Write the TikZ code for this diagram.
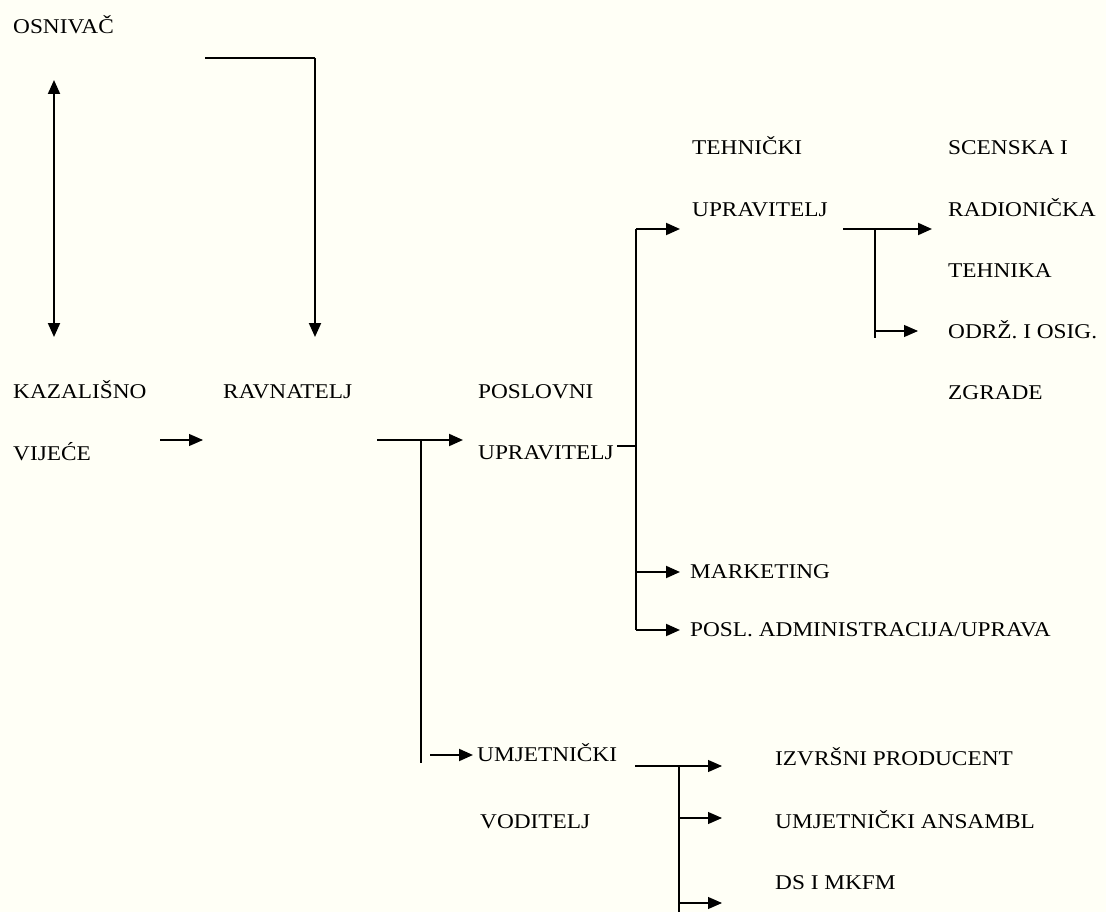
\documentclass[tikz,border=0pt]{standalone}
\usepackage{fontspec}
\setmainfont{Liberation Serif}[FakeStretch=1.11]
\usetikzlibrary{arrows.meta}
\definecolor{paper}{RGB}{255,255,246}
\begin{document}
\begin{tikzpicture}[x=1pt,y=-1pt,
  lbl/.style={anchor=west,inner sep=0pt,text height=13.8pt,text depth=0pt,
    font=\fontsize{21}{25}\selectfont},
  thick line/.style={line width=2pt},
  thin line/.style={line width=1.1pt},
  tip/.style={-{Triangle[length=14pt,width=12pt]}},
  dtip/.style={{Triangle[length=14pt,width=12pt]}-{Triangle[length=14pt,width=12pt]}}]
\fill[paper] (0,0) rectangle (1106,912);
\useasboundingbox (0,0) rectangle (1106,912);
% texts
\node[lbl] (osn)  at (13,27)  {OSNIVAČ};
\node[lbl] (kaz1) at (13,392) {KAZALIŠNO};
\node[lbl] (kaz2) at (13,454) {VIJEĆE};
\node[lbl] (rav)  at (223,392) {RAVNATELJ};
\node[lbl] (pos1) at (478,392) {POSLOVNI};
\node[lbl] (pos2) at (478,453) {UPRAVITELJ};
\node[lbl] (teh1) at (692,148) {TEHNIČKI};
\node[lbl] (teh2) at (692,210) {UPRAVITELJ};
\node[lbl] (sc1)  at (948,148) {SCENSKA I};
\node[lbl] (sc2)  at (948,210) {RADIONIČKA};
\node[lbl] (sc3)  at (948,271) {TEHNIKA};
\node[lbl] (odr1) at (948,332) {ODRŽ. I OSIG.};
\node[lbl] (odr2) at (948,393) {ZGRADE};
\node[lbl] (mkt)  at (690,572) {MARKETING};
\node[lbl] (adm)  at (690,630) {POSL. ADMINISTRACIJA/UPRAVA};
\node[lbl] (umj1) at (477,755) {UMJETNIČKI};
\node[lbl] (umj2) at (480,822) {VODITELJ};
\node[lbl] (izv)  at (775,759) {IZVRŠNI PRODUCENT};
\node[lbl] (ans)  at (775,822) {UMJETNIČKI ANSAMBL};
\node[lbl] (ds)   at (775,883) {DS I MKFM};
% junction coordinates
\coordinate (dA) at (54,80);
\coordinate (dB) at (54,337);
\coordinate (bS) at (205,58);
\coordinate (bE) at (315,337);
\coordinate (vS) at (160,440);
\coordinate (vE) at (203,440);
\coordinate (rS) at (377,440);
\coordinate (rE) at (463,440);
\coordinate (rJ) at (421,440);
\coordinate (rB) at (421,763);
\coordinate (uS) at (430,755);
\coordinate (uE) at (473,755);
\coordinate (pS) at (617,446);
\coordinate (pJ) at (636,446);
\coordinate (pT) at (636,229);
\coordinate (pB) at (636,630);
\coordinate (pM) at (636,572);
\coordinate (tE) at (680,229);
\coordinate (mE) at (680,572);
\coordinate (aE) at (680,630);
\coordinate (tS) at (843,229);
\coordinate (tJ) at (875,229);
\coordinate (tB) at (875,338);
\coordinate (tO) at (875,331);
\coordinate (sE) at (932,229);
\coordinate (oE) at (918,331);
\coordinate (kS) at (635,766);
\coordinate (kJ) at (679,766);
\coordinate (kE) at (722,766);
\coordinate (kB) at (679,912);
\coordinate (k2) at (679,818);
\coordinate (k2E) at (722,818);
\coordinate (k3) at (679,903);
\coordinate (k3E) at (722,903);
% connectors
\draw[thick line,dtip] (dA) -- (dB);
\draw[thin line] (bS) -- (bS -| bE);
\draw[thick line,tip] (bS -| bE) -- (bE);
\draw[thin line,tip] (vS) -- (vE);
\draw[thick line,tip] (rS) -- (rE);
\draw[thin line] (rJ) -- (rB);
\draw[thick line,tip] (uS) -- (uE);
\draw[thin line] (pS) -- (pJ);
\draw[thick line] (pT) -- (pB);
\draw[thick line,tip] (pT) -- (tE);
\draw[thick line,tip] (pM) -- (mE);
\draw[thick line,tip] (pB) -- (aE);
\draw[thick line,tip] (tS) -- (sE);
\draw[thin line] (tJ) -- (tB);
\draw[thin line,tip] (tO) -- (oE);
\draw[thin line,tip] (kS) -- (kE);
\draw[thick line] (kJ) -- (kB);
\draw[thin line,tip] (k2) -- (k2E);
\draw[thin line,tip] (k3) -- (k3E);
\end{tikzpicture}
\end{document}
